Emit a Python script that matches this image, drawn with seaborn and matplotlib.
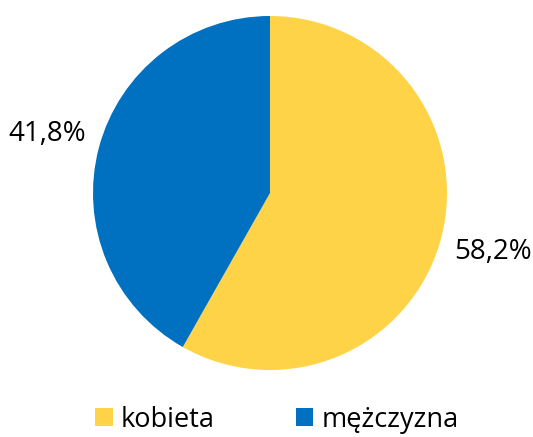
import matplotlib
matplotlib.use("Agg")
import matplotlib.pyplot as plt
import seaborn as sns
from matplotlib.patches import Patch

labels = ["kobieta", "mężczyzna"]
shares = [58.2, 41.8]
colors = ["#FFD348", "#0070C0"]

sns.set_theme(style="white")
plt.rcParams["font.family"] = ["Open Sans", "DejaVu Sans"]

fig = plt.figure(figsize=(5.33, 4.37), dpi=100)
ax = fig.add_axes([93 / 533, 67 / 437, 354 / 533, 354 / 437])

pal = sns.color_palette(colors)
wedges, texts, autotexts = ax.pie(
    shares, colors=pal, startangle=90, counterclock=False,
    autopct=lambda p: f"{p:.1f}%".replace(".", ","),
    pctdistance=1.3, textprops={"fontsize": 20, "color": "black", "clip_on": False},
    wedgeprops={"linewidth": 0},
)
ax.set_xlim(-1, 1)
ax.set_ylim(-1, 1)
ax.set_aspect("equal")
ax.axis("off")

handles = [Patch(facecolor=c, edgecolor="none") for c in pal]
fig.legend(handles, labels, loc="lower center", ncol=2, frameon=False,
           bbox_to_anchor=(0.52, -0.048), fontsize=19.5, handlelength=0.64,
           handleheight=0.64, handletextpad=0.3, columnspacing=3.0,
           labelcolor="black")

fig.savefig("out.png", dpi=100)
